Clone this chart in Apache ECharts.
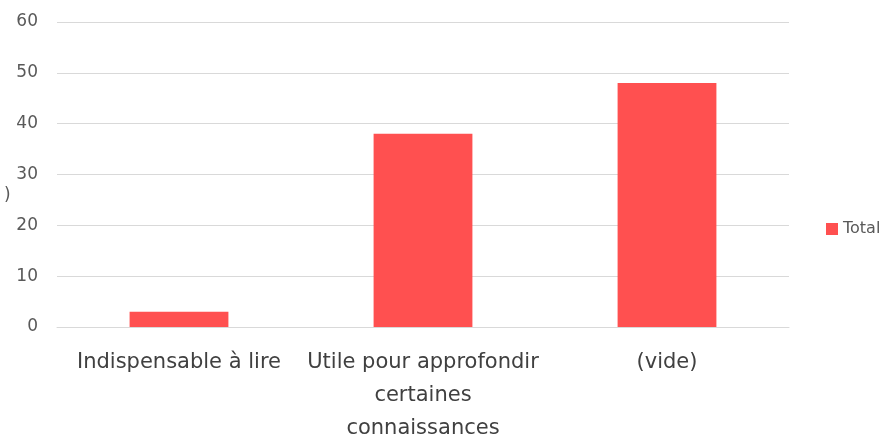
<!DOCTYPE html>
<html>
<head>
<meta charset="utf-8">
<script src="https://cdn.jsdelivr.net/npm/echarts@6/dist/echarts.min.js"></script>
<style>
  html, body { margin: 0; padding: 0; background: #fff; }
  #chart { width: 886px; height: 438px; }
</style>
</head>
<body>
<div id="chart"></div>
<script>
// data
const categories = ['Indispensable à lire', 'Utile pour approfondir certaines connaissances', '(vide)']
const categoryLabels = ['Indispensable à lire', 'Utile pour approfondir\ncertaines\nconnaissances', '(vide)']
const totals = [3, 38, 48]
const yTicks = [0, 10, 20, 30, 40, 50, 60]

const chart = echarts.init(document.getElementById('chart'))
const font = 'DejaVu Sans'

chart.setOption({
  animation: false,
  grid: {
    left: 57,
    right: 97,
    top: 22,
    bottom: 111,
    outerBoundsMode: 'none',
    containLabel: false
  },
  legend: {
    data: ['Total'],
    orient: 'vertical',
    left: 826,
    top: 221,
    padding: 0,
    itemWidth: 12,
    itemHeight: 12,
    itemGap: 4,
    icon: 'rect',
    textStyle: {
      fontFamily: font,
      fontSize: 16,
      color: '#595959'
    }
  },
  graphic: [{
    type: 'text',
    left: 4,
    top: 187,
    style: {
      text: ')',
      font: '17px ' + font,
      fill: '#595959'
    }
  }],
  xAxis: {
    type: 'category',
    data: categories,
    axisTick: { show: false },
    axisLine: { lineStyle: { color: '#d9d9d9' } },
    axisLabel: {
      interval: 0,
      margin: 19,
      lineHeight: 33,
      fontFamily: font,
      fontSize: 21,
      color: '#404040',
      formatter: function (value, idx) {
        return categoryLabels[idx]
      }
    }
  },
  yAxis: {
    type: 'value',
    min: yTicks[0],
    max: yTicks[yTicks.length - 1],
    interval: 10,
    axisLine: { show: false },
    axisTick: { show: false },
    splitLine: { lineStyle: { color: '#d9d9d9' } },
    axisLabel: {
      margin: 19,
      fontFamily: font,
      fontSize: 17,
      color: '#595959'
    }
  },
  series: [{
    name: 'Total',
    type: 'bar',
    data: totals,
    barWidth: '40.5%',
    itemStyle: { color: '#ff5050' }
  }]
})
</script>
</body>
</html>
